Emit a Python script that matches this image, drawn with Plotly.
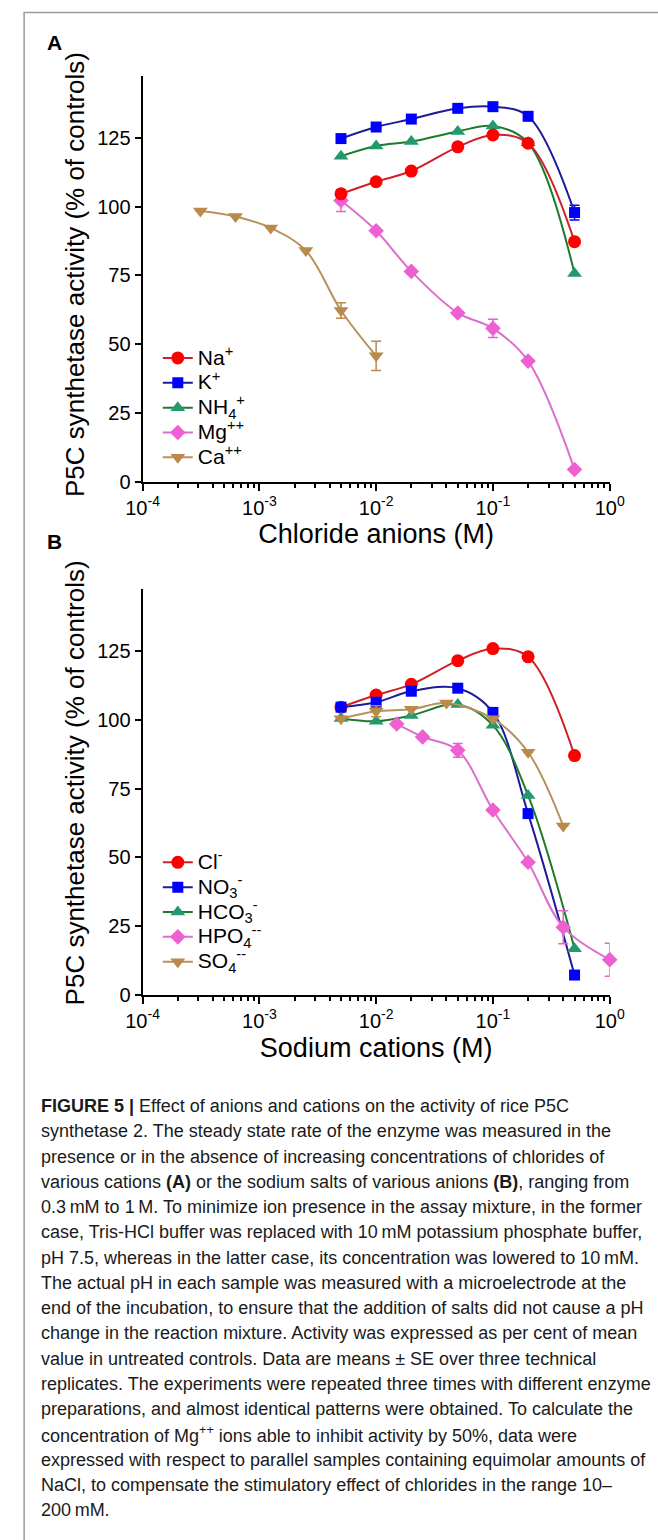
import plotly.graph_objects as go

FONT = "Liberation Sans, Arial, Helvetica, sans-serif"

# ---------------- Panel A : chlorides of various cations ----------------
conc_a = [0.005, 0.01, 0.02, 0.05, 0.1, 0.2, 0.5]
na_a = [104.6, 109.0, 112.9, 121.7, 126.0, 123.0, 87.2]
k_a = [124.7, 128.9, 131.8, 135.7, 136.3, 132.8, 97.8]
k_a_err = [None, None, None, None, None, None, 2.7]
nh4_a = [118.3, 122.0, 123.6, 127.3, 129.3, 123.2, 75.6]
mg_a = [102.2, 91.2, 76.4, 61.3, 55.7, 43.8, 4.4]
mg_a_err = [4.0, None, None, None, 3.3, None, None]
conc_ca = [0.0003125, 0.000625, 0.00125, 0.0025, 0.005, 0.01]
ca_a = [98.4, 96.4, 92.2, 84.0, 62.2, 45.7]
ca_a_err = [None, None, None, None, 2.8, 5.3]

# ---------------- Panel B : sodium salts of various anions ----------------
conc_b = [0.005, 0.01, 0.02, 0.05, 0.1, 0.2, 0.5]
cl_b = [104.6, 109.0, 112.9, 121.5, 125.9, 122.9, 87.0]
no3_b = [104.6, 106.4, 110.4, 111.5, 102.7, 65.9, 7.2]
hco3_b = [100.5, 99.5, 101.6, 105.6, 98.0, 72.5, 16.8]
conc_hpo4 = [0.015, 0.025, 0.05, 0.1, 0.2, 0.4, 1.0]
hpo4_b = [98.5, 93.8, 88.9, 67.2, 48.2, 24.6, 12.8]
hpo4_err = [None, None, 2.5, None, None, 6.0, 6.0]
conc_so4 = [0.005, 0.01, 0.02, 0.04, 0.1, 0.2, 0.4]
so4_b = [100.4, 103.1, 103.8, 106.1, 100.4, 88.2, 61.4]
so4_err = [None, 2.0, None, None, None, None, None]

x_tickvals = [1e-4, 1e-3, 1e-2, 1e-1, 1]
x_ticktext = ["10<sup>-4</sup>", "10<sup>-3</sup>", "10<sup>-2</sup>", "10<sup>-1</sup>", "10<sup>0</sup>"]
y_tickvals = [0, 25, 50, 75, 100, 125]
minor_vals = [m * 10 ** e for e in range(-4, 0) for m in range(2, 10)]

Y_TITLE = "P5C synthetase activity (% of controls)"

CAPTION_LINES = [
    "<b>FIGURE 5 |</b> Effect of anions and cations on the activity of rice P5C",
    "synthetase 2. The steady state rate of the enzyme was measured in the",
    "presence or in the absence of increasing concentrations of chlorides of",
    "various cations <b>(A)</b> or the sodium salts of various anions <b>(B)</b>, ranging from",
    "0.3\u2009mM to 1\u2009M. To minimize ion presence in the assay mixture, in the former",
    "case, Tris-HCl buffer was replaced with 10\u2009mM potassium phosphate buffer,",
    "pH 7.5, whereas in the latter case, its concentration was lowered to 10\u2009mM.",
    "The actual pH in each sample was measured with a microelectrode at the",
    "end of the incubation, to ensure that the addition of salts did not cause a pH",
    "change in the reaction mixture. Activity was expressed as per cent of mean",
    "value in untreated controls. Data are means \u00b1 SE over three technical",
    "replicates. The experiments were repeated three times with different enzyme",
    "preparations, and almost identical patterns were obtained. To calculate the",
    "concentration of Mg<sup>++</sup> ions able to inhibit activity by 50%, data were",
    "expressed with respect to parallel samples containing equimolar amounts of",
    "NaCl, to compensate the stimulatory effect of chlorides in the range 10\u2013",
    "200\u2009mM.",
]

RED_M, RED_L = "#ff0000", "#cf2027"
BLUE_M, BLUE_L = "#0000ff", "#1c1c9a"
GREEN_M, GREEN_L = "#239a6c", "#1f7a2c"
PINK_M, PINK_L = "#ee5fd2", "#dc6fcc"
TAN_M, TAN_L = "#b98a4a", "#b8925e"

W, H = 658, 1540
X0, X1 = 132, 623
YMAX = 147.5
A_BOT, B_BOT = 485, 1002
PX_PER_UNIT = 2.77
A_TOP = A_BOT - YMAX * PX_PER_UNIT
B_TOP = B_BOT - YMAX * PX_PER_UNIT


def dom_y(top, bot):
    return [1 - bot / H, 1 - top / H]


def legend_label(txt):
    return f'<span style="font-size:21px">{txt}</span>'


fig = go.Figure()


def add(x, y, name, mc, lc, symbol, size, xa, ya, legend, rank, err=None):
    tr = dict(
        x=x, y=y, name=legend_label(name), mode="lines+markers",
        line=dict(color=lc, width=2, shape="spline", smoothing=1.0),
        marker=dict(color=mc, symbol=symbol, size=size, line=dict(width=0)),
        xaxis=xa, yaxis=ya, legend=legend, legendrank=rank, cliponaxis=False,
    )
    if err is not None:
        tr["error_y"] = dict(type="data", array=err, visible=True, color=mc, thickness=1.5, width=5)
    fig.add_trace(go.Scatter(**tr))


# Panel A (drawn in reverse so Na+ is on top)
add(conc_ca, ca_a, "Ca<sup>++</sup>", TAN_M, TAN_L, "triangle-down", 13, "x", "y", "legend", 5, ca_a_err)
add(conc_a, mg_a, "Mg<sup>++</sup>", PINK_M, PINK_L, "diamond", 12, "x", "y", "legend", 4, mg_a_err)
add(conc_a, nh4_a, "NH<sub>4</sub><sup>+</sup>", GREEN_M, GREEN_L, "triangle-up", 13, "x", "y", "legend", 3)
add(conc_a, k_a, "K<sup>+</sup>", BLUE_M, BLUE_L, "square", 11, "x", "y", "legend", 2, k_a_err)
add(conc_a, na_a, "Na<sup>+</sup>", RED_M, RED_L, "circle", 13, "x", "y", "legend", 1)

# Panel B
add(conc_b, cl_b, "Cl<sup>-</sup>", RED_M, RED_L, "circle", 13, "x2", "y2", "legend2", 1)
add(conc_b, no3_b, "NO<sub>3</sub><sup>-</sup>", BLUE_M, BLUE_L, "square", 11, "x2", "y2", "legend2", 2)
add(conc_b, hco3_b, "HCO<sub>3</sub><sup>-</sup>", GREEN_M, GREEN_L, "triangle-up", 13, "x2", "y2", "legend2", 3)
add(conc_hpo4, hpo4_b, "HPO<sub>4</sub><sup>--</sup>", PINK_M, PINK_L, "diamond", 12, "x2", "y2", "legend2", 4, hpo4_err)
add(conc_so4, so4_b, "SO<sub>4</sub><sup>--</sup>", TAN_M, TAN_L, "triangle-down", 13, "x2", "y2", "legend2", 5, so4_err)

xaxis_common = dict(
    type="log", range=[-4, 0], domain=[X0 / W, X1 / W],
    tickmode="array", tickvals=x_tickvals, ticktext=x_ticktext,
    ticks="outside", ticklen=7, tickwidth=2, tickcolor="black",
    showline=True, linecolor="black", linewidth=2, showgrid=False, zeroline=False,
    minor=dict(ticks="outside", ticklen=4, tickwidth=1.5, tickcolor="black",
               tickmode="array", tickvals=minor_vals, showgrid=False),
    tickfont=dict(family=FONT, size=20, color="black"),
    title=dict(font=dict(family=FONT, size=27, color="black"), standoff=7),
)
yaxis_common = dict(
    range=[0, YMAX], tickmode="array", tickvals=y_tickvals,
    ticks="outside", ticklen=6, tickwidth=2, tickcolor="black",
    showline=True, linecolor="black", linewidth=2, showgrid=False, zeroline=False,
    tickfont=dict(family=FONT, size=20, color="black"),
)

legend_common = dict(
    xanchor="left", yanchor="top", bgcolor="rgba(0,0,0,0)",
    font=dict(family=FONT, size=16.8, color="black"), itemwidth=30, tracegroupgap=0,
)

fig.update_layout(
    width=W, height=H, autosize=False,
    margin=dict(l=0, r=0, t=0, b=0),
    paper_bgcolor="white", plot_bgcolor="white",
    font=dict(family=FONT, color="black"),
    showlegend=True,
    xaxis=dict(xaxis_common, anchor="y", title=dict(xaxis_common["title"], text="Chloride anions (M)")),
    yaxis=dict(yaxis_common, anchor="x", domain=dom_y(A_TOP, A_BOT)),
    xaxis2=dict(xaxis_common, anchor="y2", title=dict(xaxis_common["title"], text="Sodium cations (M)")),
    yaxis2=dict(yaxis_common, anchor="x2", domain=dom_y(B_TOP, B_BOT)),
    legend=dict(legend_common, x=148 / W, y=1 - 343 / H),
    legend2=dict(legend_common, x=148 / W, y=1 - 851 / H),
)

# outer frame of the figure
fig.add_shape(type="rect", xref="paper", yref="paper", x0=7.5 / W, x1=1.2, y0=-0.2, y1=1 - 12.5 / H,
              line=dict(color="#9a9a9a", width=1.5), layer="below")

# y-axis titles (rotated)
for yc in (277, 789):
    fig.add_annotation(text=Y_TITLE, xref="paper", yref="paper", x=61 / W, y=1 - yc / H,
                       xanchor="center", yanchor="middle", showarrow=False, textangle=-90,
                       font=dict(family=FONT, size=26, color="black"))

# panel letters
for letter, yc in (("A", 43), ("B", 545)):
    fig.add_annotation(text=f"<b>{letter}</b>", xref="paper", yref="paper", x=39 / W, y=1 - yc / H,
                       xanchor="center", yanchor="middle", showarrow=False,
                       font=dict(family=FONT, size=21, color="black"))

# caption
for i, line in enumerate(CAPTION_LINES):
    yc = 1114 + i * 25.45
    fig.add_annotation(text=line, xref="paper", yref="paper", x=23 / W, y=1 - yc / H,
                       xanchor="left", yanchor="middle", showarrow=False, align="left",
                       font=dict(family=FONT, size=18, color="#1a1a1a"))

fig.write_html("out.html", config={"displayModeBar": False},
               post_script="document.body.style.margin='0px';")
